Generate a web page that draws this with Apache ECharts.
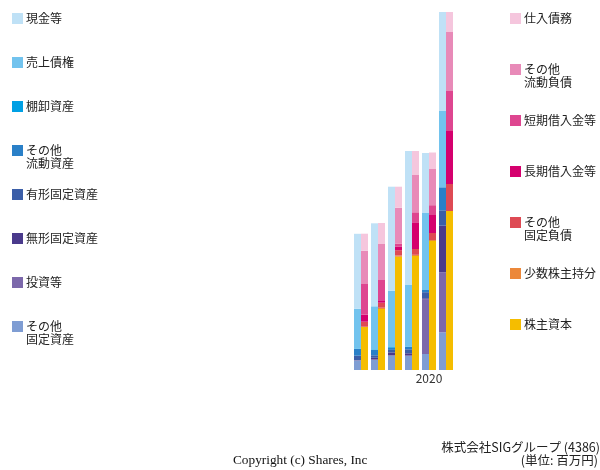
<!DOCTYPE html>
<html><head><meta charset="utf-8">
<script src="https://cdn.jsdelivr.net/npm/echarts@6/dist/echarts.min.js"></script>
<style>html,body{margin:0;padding:0;background:#fff}#c{width:600px;height:470px}</style>
</head><body><div id="c"></div>
<script>
const categories = ['2016','2017','2018','2019','2020','2021'];
const shownLabels = ['2020'];

// assets (百万円), stacked bottom -> top
const otherFixedAssets = [93, 100, 143, 140, 160, 377];
const investments      = [5, 7, 3, 5, 545, 600];
const intangible       = [0, 15, 30, 22, 12, 466];
const tangible         = [45, 25, 25, 40, 61, 154];
const otherCurrent     = [67, 55, 22, 23, 22, 230];
const inventory        = [5, 5, 7, 5, 0, 0];
const receivables      = [397, 430, 563, 615, 770, 763];
const cash             = [750, 830, 1040, 1340, 600, 990];

// liabilities & equity, stacked bottom -> top
const equity           = [430, 610, 1132, 1140, 1290, 1590];
const minority         = [3, 13, 13, 12, 10, 0];
const otherFixedLiab   = [50, 50, 53, 58, 70, 270];
const longDebt         = [70, 17, 34, 267, 180, 530];
const shortDebt        = [307, 210, 33, 100, 98, 400];
const otherCurLiab     = [333, 360, 358, 373, 362, 590];
const payables         = [170, 210, 210, 240, 165, 200];

const assetSeries = [
  ['その他\n固定資産', otherFixedAssets, '#7f9dd3'],
  ['投資等', investments, '#7c68ab'],
  ['無形固定資産', intangible, '#4a3a8c'],
  ['有形固定資産', tangible, '#3b5ea8'],
  ['その他\n流動資産', otherCurrent, '#2a80c8'],
  ['棚卸資産', inventory, '#00a0e4'],
  ['売上債権', receivables, '#72c3ee'],
  ['現金等', cash, '#bfe1f6']
];
const liabSeries = [
  ['株主資本', equity, '#f5bd00'],
  ['少数株主持分', minority, '#ec883a'],
  ['その他\n固定負債', otherFixedLiab, '#de4a54'],
  ['長期借入金等', longDebt, '#d5006e'],
  ['短期借入金等', shortDebt, '#de4690'],
  ['その他\n流動負債', otherCurLiab, '#e88ab8'],
  ['仕入債務', payables, '#f5c6dd']
];

const leftLegendOrder = ['現金等','売上債権','棚卸資産','その他\n流動資産','有形固定資産','無形固定資産','投資等','その他\n固定資産'];
const rightLegendOrder = ['仕入債務','その他\n流動負債','短期借入金等','長期借入金等','その他\n固定負債','少数株主持分','株主資本'];

const FONT = '"Noto Sans CJK JP", "Noto Sans", sans-serif';
const series = [];
assetSeries.forEach(s => series.push({
  name: s[0], type: 'bar', stack: 'assets', data: s[1], barWidth: 7, barGap: '0%',
  itemStyle: {color: s[2]}, animation: false
}));
liabSeries.forEach(s => series.push({
  name: s[0], type: 'bar', stack: 'liab', data: s[1], barWidth: 7, barGap: '0%',
  itemStyle: {color: s[2]}, animation: false
}));

const legends = [];
function addLegend(name, x, cy) {
  const multi = name.indexOf('\n') >= 0;
  legends.push({
    data: [name], left: x, top: multi ? cy - 19.5 : cy - 6.5, padding: 0,
    itemWidth: 11, itemHeight: 11, icon: 'rect', selectedMode: false,
    formatter: n => (n.indexOf('\n') >= 0 ? ' \n' + n : n),
    textStyle: {fontSize: 12, lineHeight: 13, color: '#222', fontFamily: FONT, padding: [0,0,0,-2]}
  });
}
leftLegendOrder.forEach((n, i) => addLegend(n, 12, 18.5 + 44 * i));
rightLegendOrder.forEach((n, i) => addLegend(n, 510, 18.5 + 51 * i));

const chart = echarts.init(document.getElementById('c'), null, {renderer: 'canvas'});
chart.setOption({
  animation: false,
  backgroundColor: '#fff',
  legend: legends,
  grid: {left: 352.5, width: 102, top: 12, height: 358},
  xAxis: {
    type: 'category', data: categories,
    axisLine: {show: false}, axisTick: {show: false},
    axisLabel: {interval: 0, margin: 2, fontSize: 12, color: '#333', fontFamily: FONT,
      formatter: v => shownLabels.indexOf(v) >= 0 ? v : ''}
  },
  yAxis: {type: 'value', min: 0, max: 3580, show: false, splitLine: {show: false}},
  series: series,
  graphic: [
    {type: 'text', right: 0, top: 441, style: {text: '株式会社SIGグループ (4386)', fill: '#222', font: '12.5px ' + FONT, textAlign: 'right'}},
    {type: 'text', right: 2, top: 454, style: {text: '(単位: 百万円)', fill: '#222', font: '12.5px ' + FONT, textAlign: 'right'}},
    {type: 'text', left: 233, top: 454, style: {text: 'Copyright (c) Shares, Inc', fill: '#111', font: '13.3px "Liberation Serif", "DejaVu Serif", serif'}}
  ]
});
</script></body></html>
